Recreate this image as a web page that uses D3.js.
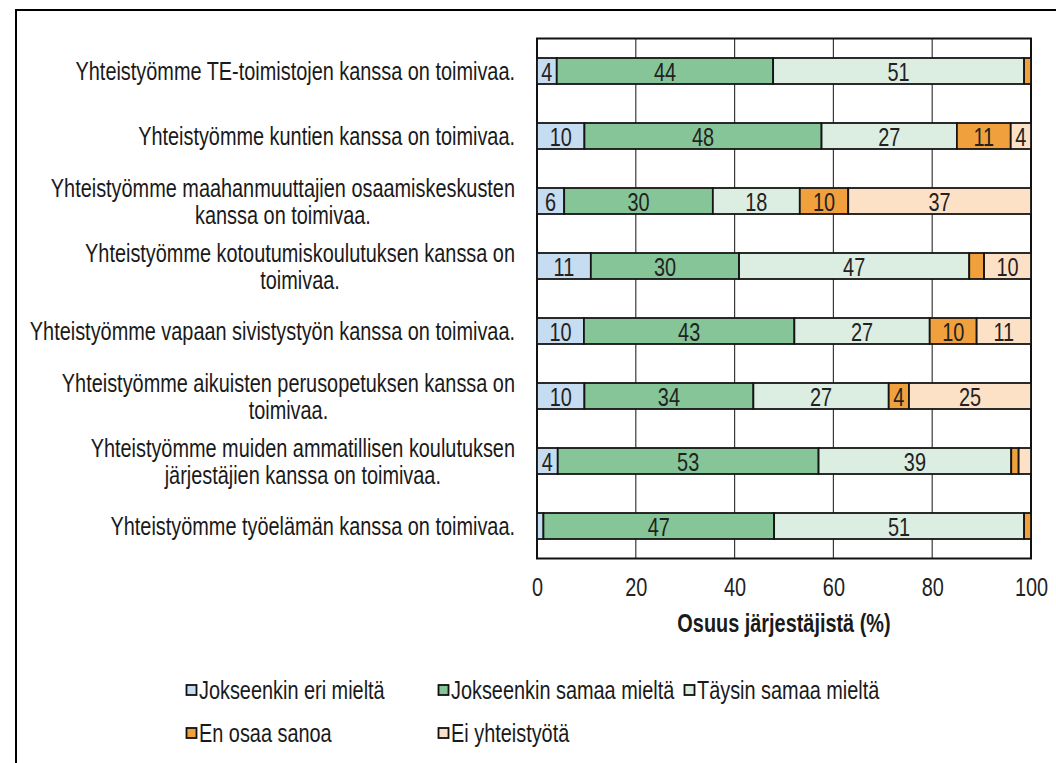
<!DOCTYPE html>
<html>
<head>
<meta charset="utf-8">
<script src="https://cdn.jsdelivr.net/npm/d3@7"></script>
<style>
  html, body { margin: 0; padding: 0; background: #fff; }
  svg { display: block; }
  text { font-family: "Liberation Sans", Arial, sans-serif; fill: #1a1a1a; }
</style>
</head>
<body>
<svg id="chart" width="1056" height="763"></svg>
<script>
const categories = [
  ["Yhteistyömme TE-toimistojen kanssa on toimivaa."],
  ["Yhteistyömme kuntien kanssa on toimivaa."],
  ["Yhteistyömme maahanmuuttajien osaamiskeskusten", "kanssa on toimivaa."],
  ["Yhteistyömme kotoutumiskoulutuksen kanssa on", "toimivaa."],
  ["Yhteistyömme vapaan sivistystyön kanssa on toimivaa."],
  ["Yhteistyömme aikuisten perusopetuksen kanssa on", "toimivaa."],
  ["Yhteistyömme muiden ammatillisen koulutuksen", "järjestäjien kanssa on toimivaa."],
  ["Yhteistyömme työelämän kanssa on toimivaa."]
];
const seriesNames = ["Jokseenkin eri mieltä", "Jokseenkin samaa mieltä", "Täysin samaa mieltä", "En osaa sanoa", "Ei yhteistyötä"];
const eriMielta       = [4.0, 9.6, 5.5, 10.9, 9.5, 9.6, 4.2, 1.3];
const jokseenkinSamaa = [43.8, 48.0, 30.1, 30.0, 42.6, 34.2, 52.8, 46.7];
const taysinSamaa     = [50.8, 27.4, 17.6, 46.6, 27.4, 27.4, 39.0, 50.6];
const enOsaa          = [1.4, 10.9, 9.8, 3.0, 9.5, 4.1, 1.5, 1.4];
const eiYhteistyota   = [0, 4.1, 37.0, 9.5, 11.0, 24.7, 2.5, 0];
const xTicks = [0, 20, 40, 60, 80, 100];
const xTitle = "Osuus järjestäjistä (%)";
const colors = ["#c6dcf0", "#86c598", "#dcede2", "#f0a03c", "#fde1c6"];

const seriesValues = [eriMielta, jokseenkinSamaa, taysinSamaa, enOsaa, eiYhteistyota];
const keys = seriesNames;
const rows = categories.map((c, i) => {
  const r = { id: i };
  keys.forEach((k, j) => r[k] = seriesValues[j][i]);
  return r;
});

const svg = d3.select("#chart");
const FS = 25.5;     // font size (vertical)
const SX = 0.78;     // horizontal condensing (narrow font look)
const CAP = 0.716 * FS;

// helper: condensed text placed with its anchor at (x, baselineY)
function narrow(sel, x, yBase, anchor) {
  return sel.attr("transform", `scale(${SX},1)`)
    .attr("x", x / SX).attr("y", yBase)
    .attr("text-anchor", anchor).attr("font-size", FS);
}

// outer frame
svg.append("rect").attr("x", 16).attr("y", 10).attr("width", 1080).attr("height", 800)
  .attr("fill", "#fff").attr("stroke", "#000").attr("stroke-width", 2);

const plot = { left: 537, right: 1031, top: 38.5, bottom: 558.5 };
const x = d3.scaleLinear().domain([0, 100]).range([plot.left, plot.right]);
const y = d3.scaleBand().domain(d3.range(categories.length)).range([plot.top, plot.bottom])
  .paddingInner(0.6).paddingOuter(0.3);

// gridlines
svg.append("g").selectAll("line").data(xTicks.slice(1, -1)).join("line")
  .attr("x1", d => x(d)).attr("x2", d => x(d))
  .attr("y1", plot.top).attr("y2", plot.bottom)
  .attr("stroke", "#3a3a3a").attr("stroke-width", 1.2);

// plot border
svg.append("rect").attr("x", plot.left).attr("y", plot.top)
  .attr("width", plot.right - plot.left).attr("height", plot.bottom - plot.top)
  .attr("fill", "none").attr("stroke", "#111").attr("stroke-width", 2);

const stack = d3.stack().keys(keys)(rows);

const layers = svg.append("g").selectAll("g").data(stack).join("g")
  .attr("fill", (d, i) => colors[i]);

layers.selectAll("rect").data(d => d.filter(s => s[1] - s[0] > 0)).join("rect")
  .attr("x", d => x(d[0]))
  .attr("y", d => y(d.data.id))
  .attr("width", d => x(d[1]) - x(d[0]))
  .attr("height", y.bandwidth())
  .attr("stroke", "#151515").attr("stroke-width", 1.8);

layers.selectAll("text").data(d => d.filter(s => Math.round(s[1] - s[0]) >= 4)).join("text")
  .each(function(d) {
    narrow(d3.select(this), (x(d[0]) + x(d[1])) / 2, y(d.data.id) + y.bandwidth() / 2 + 10.3, "middle");
  })
  .style("fill", "#222")
  .text(d => Math.round(d[1] - d[0]));

// category labels (centred block, right edge at labelRight)
const labelRight = 515;
const lineH = 27;
const catG = svg.append("g");
categories.forEach((lines, i) => {
  const cy = y(i) + y.bandwidth() / 2;
  const t = catG.append("text").attr("transform", `scale(${SX},1)`)
    .attr("font-size", FS).attr("text-anchor", "middle");
  const spans = lines.map((ln, k) => t.append("tspan").text(ln)
    .attr("y", cy + CAP / 2 + (k - (lines.length - 1) / 2) * lineH));
  const maxW = d3.max(spans, s => s.node().getComputedTextLength()) * SX;
  spans.forEach(s => s.attr("x", (labelRight - maxW / 2) / SX));
});

// x axis tick labels
const xAxis = d3.axisBottom(x).tickValues(xTicks).tickSize(0).tickPadding(0);
const ax = svg.append("g").attr("transform", `translate(0,${plot.bottom})`).call(xAxis);
ax.select(".domain").remove();
ax.attr("font-family", null).attr("font-size", null);
ax.selectAll(".tick text").each(function(d) {
  d3.select(this).attr("dy", null).attr("y", 596 - plot.bottom)
    .attr("x", 0).attr("transform", `scale(${SX},1)`)
    .attr("font-size", FS).style("fill", "#222");
});

// axis title
svg.append("text").call(narrow, (plot.left + plot.right) / 2, 632, "middle")
  .attr("font-weight", "bold").text(xTitle);

// legend
const legendPos = [[186, 690], [438, 690], [684, 690], [186, 733], [438, 733]];
const lg = svg.append("g").selectAll("g").data(seriesNames).join("g")
  .attr("transform", (d, i) => `translate(${legendPos[i][0]},${legendPos[i][1]})`);
lg.append("rect").attr("x", 0.5).attr("y", -5).attr("width", 10).attr("height", 10)
  .attr("fill", (d, i) => colors[i]).attr("stroke", "#111").attr("stroke-width", 1.8);
lg.append("text").each(function() { narrow(d3.select(this), 13, CAP / 2, "start"); })
  .text(d => d);
</script>
</body>
</html>
